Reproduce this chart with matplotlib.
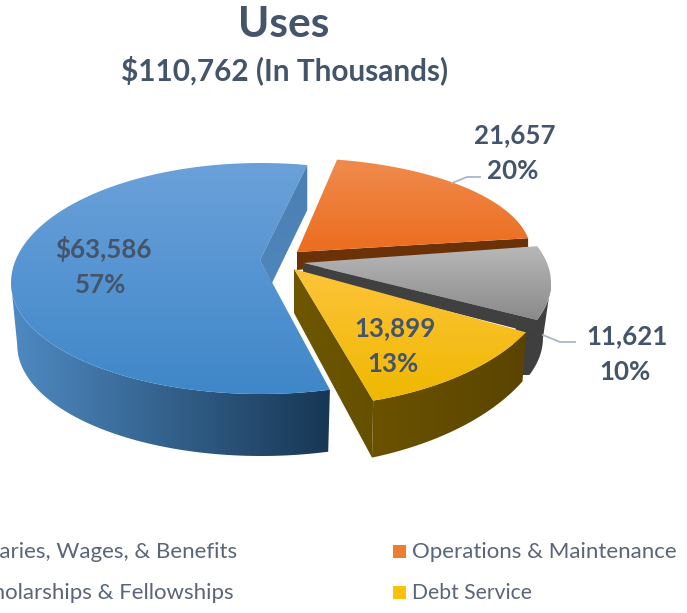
import numpy as np
import matplotlib
matplotlib.use("Agg")
import matplotlib.pyplot as plt
from matplotlib.colors import to_rgb
from matplotlib.patches import Polygon, Rectangle

plt.rcParams['font.family'] = ['Lato', 'DejaVu Sans']

# data
categories = ["Salaries, Wages, & Benefits", "Operations & Maintenance",
              "Scholarships & Fellowships", "Debt Service"]
values = [63586, 21657, 11621, 13899]
title = "Uses"
subtitle = "$110,762 (In Thousands)"

TEXT = "#44546a"
LEGEND = "#596579"
START = 286.0   # pie starts here and runs clockwise


def arc(g, a0, a1, k=1.0, depth=0.0):
    t = np.radians(np.linspace(a0, a1, 120))
    s = np.sin(t)
    ry = np.where(s > 0, g["ry_up"], g["ry_down"])
    x = g["cx"] + g["rx"] * np.cos(t) * k
    y = g["cy"] - ry * s + depth
    return np.column_stack([x, y])


def grad_poly(ax, pts, c1, c2, vertical=True, z=1):
    pts = np.asarray(pts)
    x0, x1 = pts[:, 0].min(), pts[:, 0].max()
    y0, y1 = pts[:, 1].min(), pts[:, 1].max()
    f = np.linspace(0, 1, 256)
    rgb = np.outer(1 - f, to_rgb(c1)) + np.outer(f, to_rgb(c2))
    img = rgb[:, None, :] if vertical else rgb[None, :, :]
    im = ax.imshow(img, extent=[x0, x1, y1, y0], aspect="auto", zorder=z,
                   interpolation="bilinear")
    p = Polygon(pts, closed=True, transform=ax.transData, fc="none", ec="none")
    ax.add_patch(p)
    im.set_clip_path(p)


fig = plt.figure(figsize=(6.87, 6.13), dpi=100)
ax = fig.add_axes([0, 0, 1, 1])
ax.axis("off")

# angles come from the values, clockwise
total = sum(values)
sweep = [v / total * 360 for v in values]
ends = START - np.cumsum(sweep)
starts = np.r_[START, ends[:-1]]

# layout of each exploded slice (perspective makes them differ)
blue = dict(cx=261, cy=283, rx=250, ry_up=120, ry_down=111, apex=(260, 260))
orange = dict(cx=293, cy=253, rx=238, ry_up=95, ry_down=95, apex=(297, 252))
gray = dict(cx=292, cy=283, rx=259, ry_up=114, ry_down=114, apex=(303, 263))
yellow = dict(cx=295, cy=269, rx=260, ry_up=138, ry_down=138, apex=(294, 269))

# blue slice, wall only under the widest point
a = arc(blue, starts[0], ends[0])
wall_top = arc(blue, starts[0], 180)
wall_bot = arc(blue, starts[0], 180, k=0.975, depth=62)
grad_poly(ax, np.vstack([wall_top, wall_bot[::-1]]), "#4f8ac2", "#173754", vertical=False, z=1)
grad_poly(ax, np.vstack([a, [blue["apex"]]]), "#6ba1da", "#3f87c9", z=2)
tip = a[-1]
inner = [tip, tip + [0, 45], (272, 283), blue["apex"]]
grad_poly(ax, inner, "#4a7fb3", "#4f86bb", z=3)

# orange slice
a = arc(orange, starts[1], ends[1])
right = a[-1]
front = [orange["apex"], right, right + [0, 9], (297, 270)]
ax.add_patch(Polygon(front, closed=True, fc="#6b3208", ec="none", zorder=4))
grad_poly(ax, np.vstack([a, [orange["apex"]]]), "#f08b4d", "#ec6d1f", z=5)

# gray slice, angles nudged +9.9 for the perspective
a = arc(gray, starts[2] + 9.9, ends[2] + 9.9)
wall_top = arc(gray, 0, ends[2] + 9.9)
wall_bot = arc(gray, 0, ends[2] + 9.9, k=0.969, depth=55)
# runs on behind the yellow wall so no gap shows between them
behind = [wall_top[-1] + [-20, 0], wall_bot[-1] + [-20, 0]]
ax.add_patch(Polygon(np.vstack([wall_top, behind, wall_bot[::-1]]), closed=True,
                     fc="#3f3f3f", ec="none", zorder=6))
grad_poly(ax, np.vstack([a, [gray["apex"]]]), "#b8b8b8", "#8a8a8a", z=7)
low = a[-1]
strip = [gray["apex"], low, low + [0, 14], (303, 274)]
ax.add_patch(Polygon(strip, closed=True, fc="#404040", ec="none", zorder=8))

# yellow slice, wall gets deeper toward the front
a = arc(yellow, starts[3] + 1.5, ends[3] + 1.5)
b = arc(yellow, starts[3] + 1.5, ends[3] + 1.5, k=0.985, depth=np.linspace(49, 57, 120))
grad_poly(ax, np.vstack([a, b[::-1]]), "#6b5200", "#5a4500", vertical=False, z=9)
inner = [yellow["apex"], a[-1], b[-1], (294, 313)]
grad_poly(ax, inner, "#6f5700", "#655000", vertical=False, z=10)
grad_poly(ax, np.vstack([a, [yellow["apex"]]]), "#fdc43a", "#efb800", z=11)

# leader lines
ax.plot([452, 467, 480], [183, 177, 177], color="#a9b8c9", lw=1.3, zorder=12)
ax.plot([543, 560, 575], [335, 342, 342], color="#a9b8c9", lw=1.3, zorder=12)

# data labels
label_pos = [(103, 249), (515, 135), (627, 336), (395, 328)]
for i, (v, (x, y)) in enumerate(zip(values, label_pos)):
    txt = f"${v:,}" if i == 0 else f"{v:,}"
    ax.text(x, y, txt, ha="center", va="center", fontsize=18.6, fontweight="bold",
            color=TEXT, zorder=13)
    ax.text(x - 2, y + 36, f"{round(v / total * 100)}%", ha="center", va="center",
            fontsize=18.6, fontweight="bold", color=TEXT, zorder=13)

# titles
ax.text(284, 25, title, ha="center", va="center", fontsize=30.5, fontweight="bold", color=TEXT)
ax.text(285, 70, subtitle, ha="center", va="center", fontsize=21.4, fontweight="bold", color=TEXT)

# legend, the left column runs off the picture
ax.text(237, 552, categories[0], ha="right", va="center", fontsize=16, color=LEGEND)
ax.text(234, 593, categories[2], ha="right", va="center", fontsize=16, color=LEGEND)
ax.text(412, 552, categories[1], ha="left", va="center", fontsize=16, color=LEGEND)
ax.text(412, 593, categories[3], ha="left", va="center", fontsize=15.2, color=LEGEND)
ax.add_patch(Rectangle((393, 545), 13, 13, fc="#ed7d31", ec="none"))
ax.add_patch(Rectangle((393, 586), 13, 13, fc="#fcc10a", ec="none"))

ax.set_xlim(0, 687)
ax.set_ylim(613, 0)
fig.savefig("out.png", dpi=100)
